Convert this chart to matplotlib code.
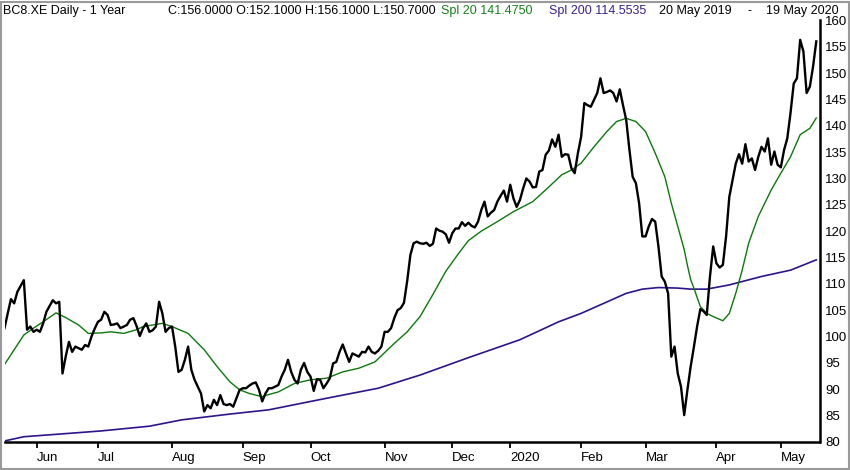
import matplotlib.pyplot as plt
import numpy as np
import pandas as pd
from matplotlib.patches import Rectangle

# daily close, one value per trading session (20 May 2019 .. 19 May 2020)
close = [
    101.6, 104.4, 107.1, 106.3, 108.5, 109.6, 110.7, 101.3, 101.9, 100.9,
    101.3, 100.9, 102.5, 104.7, 105.8, 106.9, 106.3, 106.6, 93.0, 96.2,
    99.0, 97.1, 98.1, 97.8, 97.5, 98.4, 98.1, 100.0, 101.5, 102.8,
    103.2, 104.7, 104.1, 102.2, 102.3, 102.5, 101.6, 101.9, 102.2, 103.2,
    103.5, 102.0, 100.1, 101.6, 102.5, 100.9, 101.2, 101.9, 106.6, 104.4,
    100.9, 101.6, 101.9, 98.1, 93.3, 93.7, 95.6, 98.1, 93.7, 91.8,
    90.5, 89.2, 85.8, 87.0, 86.4, 88.0, 87.0, 88.9, 87.2, 87.0,
    87.2, 86.7, 88.3, 89.9, 90.2, 90.2, 90.7, 91.1, 91.3, 89.9,
    87.7, 89.2, 90.2, 90.2, 90.5, 90.8, 92.4, 93.7, 95.6, 93.3,
    91.8, 91.1, 93.7, 95.0, 93.3, 92.4, 89.7, 91.9, 91.8, 90.2,
    91.1, 92.1, 94.9, 95.2, 97.1, 98.5, 96.8, 95.2, 96.8, 96.5,
    96.2, 97.1, 97.0, 98.1, 97.1, 96.8, 97.3, 98.1, 100.9, 100.9,
    101.6, 103.5, 105.0, 105.4, 106.4, 110.5, 115.5, 117.7, 118.0, 117.7,
    117.6, 117.8, 117.2, 117.6, 120.5, 120.1, 119.9, 119.4, 117.8, 119.6,
    120.5, 120.5, 121.7, 121.0, 121.6, 121.0, 120.7, 121.8, 124.0, 125.6,
    122.8, 123.5, 124.0, 125.6, 126.7, 127.7, 125.6, 128.8, 126.2, 124.6,
    125.9, 128.1, 130.0, 129.4, 128.3, 128.4, 131.3, 131.6, 134.5, 135.3,
    137.4, 136.0, 138.3, 134.1, 134.6, 134.5, 131.9, 131.0, 134.8, 137.9,
    144.3, 143.9, 143.6, 144.9, 146.2, 149.0, 146.2, 146.4, 146.7, 146.2,
    144.6, 146.9, 143.9, 141.1, 135.4, 130.3, 129.1, 125.3, 119.0, 119.0,
    120.9, 122.3, 121.8, 117.1, 111.4, 110.4, 108.2, 96.2, 98.1, 93.0,
    90.5, 85.1, 89.9, 94.3, 98.0, 101.9, 105.2, 104.8, 104.1, 111.4,
    117.1, 113.9, 113.1, 113.6, 119.0, 126.5, 129.7, 132.8, 134.6, 132.8,
    136.5, 133.2, 133.8, 131.6, 134.1, 136.0, 135.1, 137.6, 132.6, 135.1,
    132.6, 132.1, 135.4, 137.6, 142.4, 148.0, 149.0, 156.3, 154.1, 146.2,
    147.4, 151.2, 156.0,
]

# simple moving averages, read at selected sessions
spl20_day = [0, 3, 6, 9, 12, 16, 19, 23, 26, 30, 33, 37, 41, 43, 49, 52, 57,
             62, 66, 70, 73, 76, 80, 82, 85, 90, 95, 100, 105, 110, 115, 121,
             125, 129, 133, 137, 141, 144, 148, 153, 158, 164, 169, 173, 176,
             179, 183, 187, 190, 193, 196, 199, 202, 205, 207, 209, 211, 212,
             213, 214, 216, 218, 220, 223, 225, 227, 229, 231, 234, 238, 241,
             244, 247, 250, 252]
spl20 = [94.7, 97.5, 100.3, 101.6, 102.8, 104.5, 103.6, 102.2, 100.6, 100.7,
         100.9, 100.6, 101.3, 101.9, 102.5, 101.9, 100.6, 97.5, 94.3, 91.4,
         89.9, 89.2, 88.6, 89.0, 89.5, 91.1, 91.8, 92.1, 93.3, 94.0, 95.2,
         98.7, 100.9, 103.8, 108.0, 112.4, 115.8, 118.2, 120.0, 121.8, 123.7,
         125.6, 128.4, 130.7, 131.6, 132.9, 136.0, 138.9, 140.8, 141.4, 140.8,
         138.9, 134.8, 130.3, 125.3, 120.9, 116.5, 113.5, 110.8, 109.2, 105.7,
         104.4, 103.8, 103.0, 104.4, 108.2, 112.6, 117.7, 122.8, 127.8, 131.0,
         134.1, 138.3, 139.5, 141.475]

spl200_day = [0, 6, 17, 30, 45, 55, 70, 82, 100, 116, 129, 144, 160, 172, 179,
              186, 193, 198, 203, 209, 213, 218, 225, 235, 244, 252]
spl200 = [80.2, 81.0, 81.5, 82.1, 83.0, 84.2, 85.3, 86.1, 88.3, 90.2, 92.7,
          96.0, 99.4, 102.8, 104.4, 106.3, 108.2, 109.0, 109.3, 109.2, 109.0,
          109.0, 109.8, 111.4, 112.6, 114.5535]

holidays = ["2019-06-10", "2019-12-24", "2019-12-25", "2019-12-26",
            "2019-12-31", "2020-01-01", "2020-04-10", "2020-04-13",
            "2020-05-01"]
month_labels = ["Jun", "Jul", "Aug", "Sep", "Oct", "Nov", "Dec", "2020",
                "Feb", "Mar", "Apr", "May"]

title_parts = [
    ("BC8.XE Daily - 1 Year", "black"),
    ("C:156.0000 O:152.1000 H:156.1000 L:150.7000", "black"),
    ("Spl 20 141.4750", "#17801a"),
    ("Spl 200 114.5535", "#3a1f8f"),
    ("20 May 2019", "black"),
    ("-", "black"),
    ("19 May 2020", "black"),
]
title_x = [3, 168, 441, 549, 659, 747, 766]

# trading calendar -> first session of each month
days = pd.bdate_range("2019-05-20", "2020-05-19")
days = days[~days.isin(pd.to_datetime(holidays))]
tick_idx = [i for i in range(1, len(days)) if days[i].month != days[i - 1].month]

plt.rcParams["font.family"] = ["Liberation Sans", "DejaVu Sans"]

W, H = 850, 470
fig = plt.figure(figsize=(W / 100, H / 100), dpi=100)
ax = fig.add_axes([4.5 / W, 28 / H, 815 / W, 421.7 / H])

ax.plot(spl200_day, spl200, color="#2e138a", lw=1.2)
ax.plot(spl20_day, spl20, color="#0c780c", lw=1.0)
ax.plot(np.arange(len(close)), close, color="black", lw=1.7,
        solid_joinstyle="round")

ax.set_xlim(0, 253)
ax.set_ylim(80, 160)

ax.yaxis.tick_right()
ax.set_yticks(range(80, 161, 5))
ax.tick_params(axis="y", length=0, pad=4, labelsize=9.5)

ax.set_xticks(tick_idx, month_labels)
ax.tick_params(axis="x", direction="out", length=4, width=1.3, pad=3,
               labelsize=9.5)
for t in ax.get_xticklabels():
    t.set_ha("left")

for side in ["left", "top"]:
    ax.spines[side].set_visible(False)
for side in ["right", "bottom"]:
    ax.spines[side].set_linewidth(1.8)

for (txt, col), x in zip(title_parts, title_x):
    fig.text(x / W, 1 - 11 / H, txt, color=col, fontsize=9,
             ha="left", va="center")

fig.patches.append(Rectangle((1 / W, 1.5 / H), 847.5 / W, 467 / H,
                             transform=fig.transFigure, fill=False,
                             edgecolor="#9a9a9a", lw=1.5))

fig.savefig("out.png", dpi=100)
